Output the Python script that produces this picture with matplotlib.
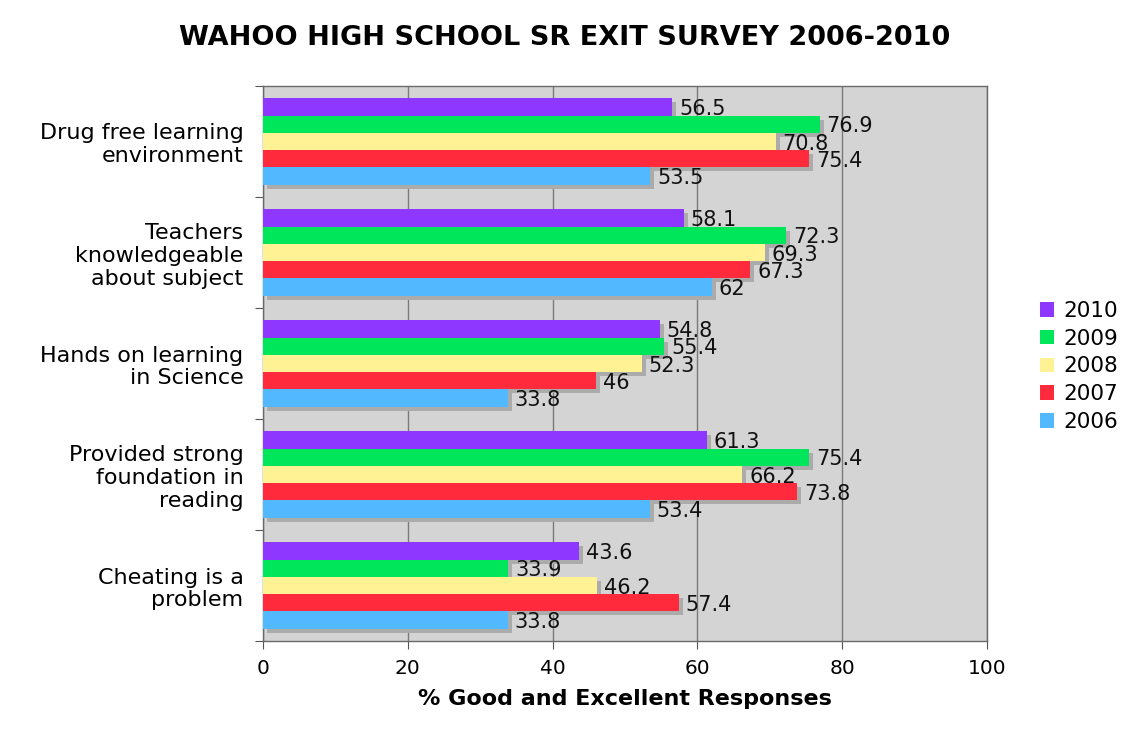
import matplotlib
matplotlib.use("Agg")
import matplotlib.pyplot as plt
import matplotlib.transforms as mtransforms
from matplotlib.patches import Patch
import numpy as np

categories = [
    "Drug free learning\nenvironment",
    "Teachers\nknowledgeable\nabout subject",
    "Hands on learning\nin Science",
    "Provided strong\nfoundation in\nreading",
    "Cheating is a\nproblem",
]
years = ["2010", "2009", "2008", "2007", "2006"]
values = {
    "2010": [56.5, 58.1, 54.8, 61.3, 43.6],
    "2009": [76.9, 72.3, 55.4, 75.4, 33.9],
    "2008": [70.8, 69.3, 52.3, 66.2, 46.2],
    "2007": [75.4, 67.3, 46, 73.8, 57.4],
    "2006": [53.5, 62, 33.8, 53.4, 33.8],
}
labels = {
    "2010": ["56.5", "58.1", "54.8", "61.3", "43.6"],
    "2009": ["76.9", "72.3", "55.4", "75.4", "33.9"],
    "2008": ["70.8", "69.3", "52.3", "66.2", "46.2"],
    "2007": ["75.4", "67.3", "46", "73.8", "57.4"],
    "2006": ["53.5", "62", "33.8", "53.4", "33.8"],
}
colors = {
    "2010": "#8E38FF",
    "2009": "#00E65A",
    "2008": "#FFF294",
    "2007": "#FF2A3C",
    "2006": "#52B8FF",
}

plt.rcParams["font.family"] = ["DejaVu Sans"]

fig = plt.figure(figsize=(11.3, 7.3), dpi=100)
ax = fig.add_axes([0.2327, 0.1219, 0.6408, 0.7603])
ax.set_facecolor("#D4D4D4")

n_cat = len(categories)
n_ser = len(years)
bar_h = 0.155
ypos = np.arange(n_cat)

# drop shadow: same bars shifted 4 px right and 4 px down
shadow = mtransforms.ScaledTranslation(4 / 100, -4 / 100, fig.dpi_scale_trans)

for i, yr in enumerate(years):
    y = ypos + (i - (n_ser - 1) / 2) * bar_h
    ax.barh(y, values[yr], height=bar_h, color="#ABABAB", zorder=2,
            transform=ax.transData + shadow, linewidth=0)
for i, yr in enumerate(years):
    y = ypos + (i - (n_ser - 1) / 2) * bar_h
    ax.barh(y, values[yr], height=bar_h, color=colors[yr], zorder=3, linewidth=0)
    for yy, v, t in zip(y, values[yr], labels[yr]):
        ax.annotate(t, (v, yy), xytext=(5, -1.5), textcoords="offset points",
                    va="center", ha="left", fontsize=15, zorder=4, color="#111111")

ax.set_xlim(0, 100)
ax.set_ylim(n_cat - 0.5, -0.5)
ax.set_xticks([0, 20, 40, 60, 80, 100])
ax.set_xticklabels(["0", "20", "40", "60", "80", "100"], fontsize=14.5)
ax.set_yticks(np.arange(n_cat + 1) - 0.5)
ax.set_yticklabels([])
ax.set_yticks(ypos, minor=True)
ax.set_yticklabels(categories, minor=True, fontsize=16, linespacing=1.17)
ax.tick_params(axis="y", which="minor", length=0, pad=14)
ax.tick_params(axis="y", which="major", length=6, direction="out", color="#555555")
ax.tick_params(axis="x", length=6, direction="out", color="#555555", pad=7)
for lbl in ax.get_yticklabels(minor=True):
    lbl.set_horizontalalignment("right")
    lbl.set_multialignment("right")

ax.grid(axis="x", color="#7a7a7a", linewidth=1, zorder=1)
ax.set_axisbelow(True)
for s in ax.spines.values():
    s.set_color("#6a6a6a")
    s.set_linewidth(1)

ax.set_xlabel("% Good and Excellent Responses", fontsize=16, fontweight="bold", labelpad=8)
fig.text(0.5, 0.948, "WAHOO HIGH SCHOOL SR EXIT SURVEY 2006-2010",
         ha="center", va="center", fontsize=19.5, fontweight="bold")

handles = [Patch(facecolor=colors[y], edgecolor="none") for y in years]
fig.legend(handles, years, loc="center left", bbox_to_anchor=(0.920, 0.498),
           frameon=False, fontsize=15.5, handlelength=0.65, handleheight=0.65,
           handletextpad=0.45, labelspacing=0.36, borderpad=0, borderaxespad=0)

fig.savefig("out.png", dpi=100)
